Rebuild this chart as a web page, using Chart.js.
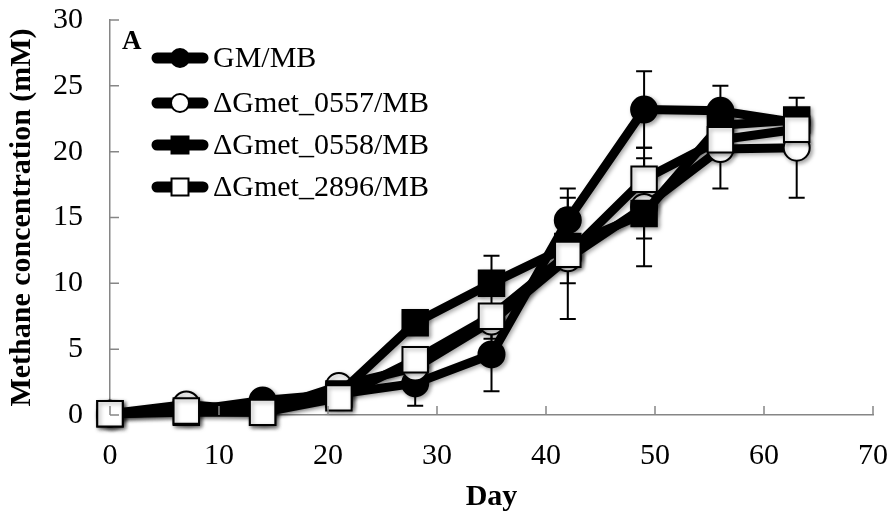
<!DOCTYPE html>
<html>
<head>
<meta charset="utf-8">
<script src="https://cdn.jsdelivr.net/npm/chart.js@4/dist/chart.umd.min.js"></script>
<style>
  html, body { margin: 0; padding: 0; background: #fff; }
  #wrap { width: 893px; height: 520px; position: relative; }
</style>
</head>
<body>
<div id="wrap"><canvas id="methane-chart"></canvas></div>
<script>
var days = [0, 7, 14, 21, 28, 35, 42, 49, 56, 63];

var seriesNames = ['GM/MB', '\u0394Gmet_0557/MB', '\u0394Gmet_0558/MB', '\u0394Gmet_2896/MB'];

var gmValues    = [0.1, 0.3, 1.1, 1.6, 2.4, 4.6, 14.8, 23.2, 23.1, 22.2];
var m0557Values = [0.1, 0.8, 0.3, 2.2, 3.6, 7.1, 11.9, 15.8, 20.2, 20.3];
var m0558Values = [0.1, 0.2, 0.2, 1.6, 7.0, 10.0, 12.8, 15.3, 22.0, 22.4];
var m2896Values = [0.1, 0.3, 0.2, 1.3, 4.2, 7.5, 12.2, 17.9, 20.9, 21.7];

var gmErrors    = [0, 0, 0, 0, 1.7, 2.8, 2.4, 2.9, 1.9, 0];
var m0557Errors = [0, 0, 0, 0, 0, 1.3, 4.6, 4.5, 3.0, 3.8];
var m0558Errors = [0, 0, 0, 0, 0, 2.1, 2.8, 1.9, 0, 0];
var m2896Errors = [0, 0, 0, 0, 0, 0, 0, 1.6, 0, 0];

var SERIF = "'Liberation Serif', 'Times New Roman', serif";
var AXIS_GREY = '#868686';

function toPoints(values) {
    return days.map(function(d, i) { return { x: d, y: values[i] }; });
}

function makeDataset(idx, values, errors, style, fill, radius) {
    return {
        label: seriesNames[idx],
        data: toPoints(values),
        errors: errors,
        borderColor: '#000',
        borderWidth: 9,
        backgroundColor: fill,
        pointStyle: style,
        pointRadius: radius,
        pointHoverRadius: radius,
        pointBackgroundColor: fill,
        pointBorderColor: '#000',
        pointBorderWidth: 2,
        tension: 0,
        fill: false,
        clip: false,
        borderJoinStyle: 'round',
        order: 4 - idx
    };
}

// error bars under the lines and markers
var errorBars = {
    id: 'errorBars',
    beforeDatasetsDraw: function(chart) {
        var ctx = chart.ctx;
        var xs = chart.scales.x, ys = chart.scales.y;
        ctx.save();
        ctx.strokeStyle = '#000';
        ctx.lineWidth = 2;
        chart.data.datasets.forEach(function(ds) {
            ds.data.forEach(function(p, i) {
                var e = ds.errors[i];
                if (!e) return;
                var px = xs.getPixelForValue(p.x);
                var top = ys.getPixelForValue(p.y + e);
                var bot = ys.getPixelForValue(p.y - e);
                ctx.beginPath();
                ctx.moveTo(px, top); ctx.lineTo(px, bot);
                ctx.moveTo(px - 8, top); ctx.lineTo(px + 8, top);
                ctx.moveTo(px - 8, bot); ctx.lineTo(px + 8, bot);
                ctx.stroke();
            });
        });
        ctx.restore();
    },
    beforeDatasetDraw: function(chart) {
        var ctx = chart.ctx;
        ctx.save();
        ctx.shadowColor = 'rgba(0,0,0,0.35)';
        ctx.shadowBlur = 4;
        ctx.shadowOffsetX = 2;
        ctx.shadowOffsetY = 2;
    },
    afterDatasetDraw: function(chart) {
        chart.ctx.restore();
    }
};

// Excel style inside tick marks, panel letter and legend
var decorations = {
    id: 'decorations',
    afterDraw: function(chart) {
        var ctx = chart.ctx;
        var xs = chart.scales.x, ys = chart.scales.y;
        var area = chart.chartArea;
        ctx.save();
        ctx.strokeStyle = AXIS_GREY;
        ctx.lineWidth = 1.5;
        ctx.beginPath();
        ys.ticks.forEach(function(t) {
            var py = ys.getPixelForValue(t.value);
            ctx.moveTo(area.left, py); ctx.lineTo(area.left + 9, py);
        });
        xs.ticks.forEach(function(t) {
            var px = xs.getPixelForValue(t.value);
            ctx.moveTo(px, area.bottom); ctx.lineTo(px, area.bottom - 9);
        });
        ctx.stroke();

        ctx.fillStyle = '#000';
        ctx.font = 'bold 27px ' + SERIF;
        ctx.textBaseline = 'alphabetic';
        ctx.textAlign = 'left';
        ctx.fillText('A', 122, 49);

        var rowY = [58, 103, 145, 187];
        ctx.font = '30px ' + SERIF;
        ctx.textBaseline = 'middle';
        chart.data.datasets.forEach(function(ds, i) {
            var y = rowY[i];
            ctx.strokeStyle = '#000';
            ctx.lineWidth = 11;
            ctx.lineCap = 'round';
            ctx.beginPath();
            ctx.moveTo(157, y); ctx.lineTo(203, y);
            ctx.stroke();
            ctx.fillStyle = ds.pointBackgroundColor;
            ctx.strokeStyle = '#000';
            ctx.lineWidth = 2;
            Chart.helpers.drawPoint(ctx, {
                pointStyle: ds.pointStyle,
                radius: ds.pointStyle === 'rect' ? 12 : 9,
                rotation: 0,
                borderWidth: 2
            }, 180, y);
            ctx.fillStyle = '#000';
            ctx.fillText(ds.label, 213, y + 1);
        });
        ctx.restore();
    }
};

var ctx = document.getElementById('methane-chart');

new Chart(ctx, {
    type: 'line',
    data: {
        datasets: [
            makeDataset(0, gmValues, gmErrors, 'circle', '#000', 13),
            makeDataset(1, m0557Values, m0557Errors, 'circle', '#fff', 13),
            makeDataset(2, m0558Values, m0558Errors, 'rect', '#000', 18),
            makeDataset(3, m2896Values, m2896Errors, 'rect', '#fff', 18)
        ]
    },
    options: {
        responsive: true,
        maintainAspectRatio: false,
        animation: false,
        layout: { padding: { top: 18, right: 18, left: 0, bottom: 0 } },
        plugins: {
            legend: { display: false },
            tooltip: { enabled: false }
        },
        scales: {
            x: {
                type: 'linear',
                min: 0,
                max: 70,
                grid: { drawOnChartArea: false, drawTicks: false },
                border: { display: true, color: AXIS_GREY, width: 1.5 },
                ticks: {
                    stepSize: 10,
                    padding: 23,
                    color: '#000',
                    font: { family: SERIF, size: 30 }
                },
                title: {
                    display: true,
                    text: 'Day',
                    color: '#000',
                    padding: { top: 0, bottom: 5 },
                    font: { family: SERIF, size: 30, weight: 'bold' }
                },
                afterFit: function(scale) {
                    scale.height = 105;
                    scale.paddingLeft = 0;
                    scale.paddingRight = 0;
                }
            },
            y: {
                min: 0,
                max: 30,
                grid: { drawOnChartArea: false, drawTicks: false },
                border: { display: true, color: AXIS_GREY, width: 1.5 },
                ticks: {
                    stepSize: 5,
                    padding: 27,
                    color: '#000',
                    font: { family: SERIF, size: 30 }
                },
                title: {
                    display: true,
                    text: 'Methane concentration (mM)',
                    color: '#000',
                    padding: { top: 4, bottom: 0 },
                    font: { family: SERIF, size: 30, weight: 'bold' }
                },
                afterFit: function(scale) {
                    scale.width = 110;
                    scale.paddingTop = 0;
                    scale.paddingBottom = 0;
                }
            }
        }
    },
    plugins: [errorBars, decorations]
});
</script>
</body>
</html>
